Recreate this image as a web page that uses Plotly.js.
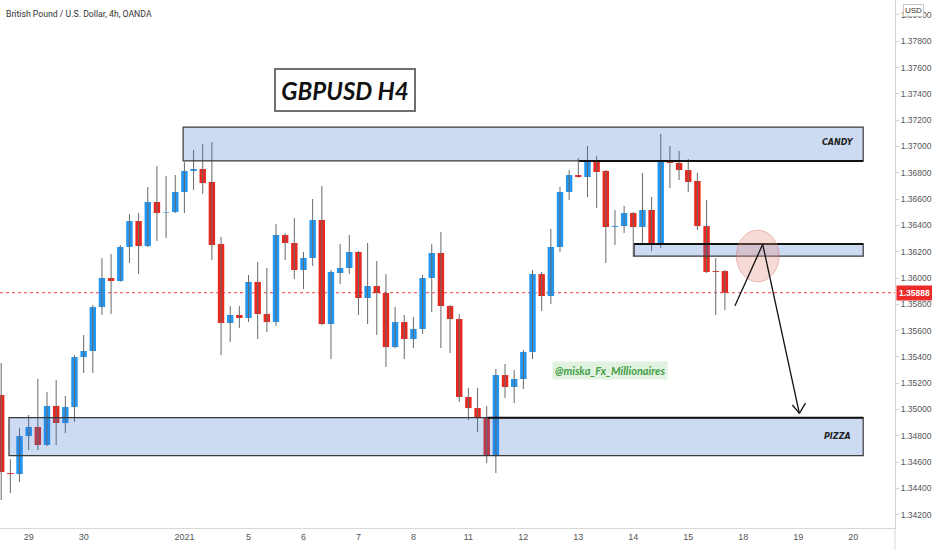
<!DOCTYPE html>
<html>
<head>
<meta charset="utf-8">
<script src="https://cdn.plot.ly/plotly-3.0.1.min.js"></script>
<style>html,body{margin:0;padding:0;background:#fff;}#chart{width:932px;height:550px;}</style>
</head>
<body>
<div id="chart"></div>
<script>
// ---- Data (GBPUSD 4h candles) ----
const openP = [1.35110,1.34517,1.34509,1.34798,1.34867,1.34730,1.35027,1.34897,1.35019,1.35399,
1.35445,1.35779,1.36000,1.35977,1.36236,1.36433,1.36243,1.36578,1.36498,1.36502,
1.36654,1.36814,1.36829,1.36730,1.36259,1.35658,1.35719,1.35696,1.35970,1.35726,
1.35665,1.36327,1.36266,1.36061,1.36152,1.36441,1.35650,1.36038,1.36076,1.36198,
1.35848,1.35939,1.35886,1.35475,1.35665,1.35536,1.35612,1.36000,1.36190,1.35787,
1.35688,1.35095,1.35011,1.34935,1.34654,1.35262,1.35171,1.35232,1.35437,1.36030,
1.35863,1.36236,1.36654,1.36783,1.36768,1.36890,1.36814,1.36388,1.36395,1.36494,
1.36388,1.36517,1.36266,1.36890,1.36875,1.36821,1.36738,1.36395,1.36053,1.36053];

const highP = [1.35354,1.34623,1.34859,1.34958,1.35232,1.35133,1.35224,1.35103,1.35414,1.35567,
1.35795,1.36152,1.36183,1.36251,1.36487,1.36494,1.36692,1.36852,1.36776,1.36783,
1.36882,1.36973,1.37019,1.37034,1.36312,1.35787,1.35787,1.36023,1.36122,1.36076,
1.36411,1.36342,1.36456,1.36198,1.36601,1.36700,1.36061,1.36259,1.36327,1.36205,
1.36266,1.36129,1.36030,1.35779,1.35719,1.35703,1.36023,1.36259,1.36350,1.35795,
1.35726,1.35163,1.35163,1.35027,1.35308,1.35346,1.35300,1.35452,1.36061,1.36046,
1.36373,1.36692,1.36821,1.36913,1.37004,1.36928,1.36821,1.36517,1.36548,1.36502,
1.36799,1.36616,1.37095,1.37004,1.36966,1.36905,1.36799,1.36593,1.36152,1.36061];

const lowP = [1.34312,1.34365,1.34449,1.34692,1.34692,1.34722,1.34730,1.34821,1.34905,1.35278,
1.35278,1.35719,1.35726,1.35970,1.36114,1.36030,1.36236,1.36281,1.36304,1.36494,
1.36494,1.36669,1.36639,1.36137,1.35414,1.35513,1.35620,1.35665,1.35536,1.35589,
1.35635,1.36137,1.35992,1.35916,1.36091,1.35643,1.35384,1.35954,1.36030,1.35719,
1.35650,1.35567,1.35323,1.35468,1.35384,1.35468,1.35574,1.35741,1.35468,1.35430,
1.35057,1.34920,1.34829,1.34593,1.34517,1.35087,1.35049,1.35156,1.35384,1.35749,
1.35802,1.36198,1.36593,1.36761,1.36616,1.36532,1.36114,1.36251,1.36342,1.36160,
1.36266,1.36205,1.36228,1.36684,1.36745,1.36654,1.36365,1.36038,1.35719,1.35757];

const closeP = [1.34525,1.34509,1.34798,1.34867,1.34730,1.35027,1.34897,1.35019,1.35399,1.35445,
1.35779,1.36000,1.35977,1.36236,1.36433,1.36243,1.36578,1.36494,1.36502,1.36654,
1.36814,1.36829,1.36722,1.36251,1.35658,1.35719,1.35696,1.35970,1.35726,1.35665,
1.36327,1.36266,1.36061,1.36152,1.36441,1.35650,1.36046,1.36076,1.36198,1.35848,
1.35939,1.35886,1.35475,1.35665,1.35536,1.35612,1.36000,1.36190,1.35787,1.35688,
1.35095,1.35011,1.34935,1.34654,1.35262,1.35171,1.35232,1.35437,1.36030,1.35863,
1.36236,1.36654,1.36783,1.36768,1.36890,1.36806,1.36388,1.36395,1.36494,1.36388,
1.36517,1.36266,1.36890,1.36875,1.36821,1.36730,1.36395,1.36046,1.36046,1.35888];

const dayTickIdx = [3,9,20,27,33,39,45,51,57,63,69,75,81,87,93];
const dayTickText = ['29','30','2021','5','6','7','8','11','12','13','14','15','18','19','20'];

const lastPrice = 1.35888;
const candyZone = [1.36890, 1.37148];
const pizzaZone = [1.34649, 1.34938];
const midZone = [1.36167, 1.36259];

// ---- Build traces ----
const UP = '#2196f3', DOWN = '#e8281e', WICK = '#6a6a6a';
const idx = openP.map((_, i) => i);
const wx = [], wy = [];
idx.forEach(i => { wx.push(i, i, null); wy.push(lowP[i], highP[i], null); });
const bodyBase = idx.map(i => Math.min(openP[i], closeP[i]));
const bodyLen = idx.map(i => Math.max(Math.abs(closeP[i] - openP[i]), 0.00002));
const bodyCol = idx.map(i => closeP[i] >= openP[i] ? UP : DOWN);

const traces = [
  {type:'scatter', mode:'lines', x:wx, y:wy, line:{color:WICK, width:1}, hoverinfo:'skip', connectgaps:false},
  {type:'bar', x:idx, base:bodyBase, y:bodyLen, width:0.7, marker:{color:bodyCol, line:{width:0}}, hoverinfo:'skip'}
];

const zoneFill = 'rgba(51,107,203,0.25)';
const zoneLine = {color:'#3a3a3a', width:1.2};
const edge = 94.1;
const shapes = [
  {type:'line', xref:'paper', x0:0, x1:1, yref:'y', y0:lastPrice, y1:lastPrice, line:{color:'#ef3b3b', width:1, dash:'dot'}, layer:'below'},
  {type:'rect', xref:'x', yref:'y', x0:19.86, x1:edge, y0:candyZone[0], y1:candyZone[1], fillcolor:zoneFill, line:zoneLine},
  {type:'rect', xref:'x', yref:'y', x0:0.85, x1:edge, y0:pizzaZone[0], y1:pizzaZone[1], fillcolor:zoneFill, line:zoneLine},
  {type:'rect', xref:'x', yref:'y', x0:69.1, x1:edge, y0:midZone[0], y1:midZone[1], fillcolor:zoneFill, line:zoneLine},
  {type:'line', xref:'x', yref:'y', x0:63.1, x1:edge, y0:candyZone[0], y1:candyZone[0], line:{color:'#111', width:2}},
  {type:'line', xref:'x', yref:'y', x0:53.1, x1:edge, y0:pizzaZone[1], y1:pizzaZone[1], line:{color:'#111', width:2}},
  {type:'line', xref:'x', yref:'y', x0:69.1, x1:edge, y0:midZone[1], y1:midZone[1], line:{color:'#111', width:2}},
  {type:'circle', xref:'x', yref:'y', x0:80.26, x1:84.91, y0:1.35971, y1:1.36364, fillcolor:'rgba(228,140,128,0.32)', line:{color:'rgba(210,110,100,0.45)', width:1}},
  {type:'line', xref:'x', yref:'y', x0:80.1, y0:1.35789, x1:83.13, y1:1.36256, line:{color:'#111', width:1.3}},
  {type:'line', xref:'x', yref:'y', x0:83.13, y0:1.36256, x1:87.13, y1:1.34971, line:{color:'#111', width:1.3}},
  {type:'line', xref:'x', yref:'y', x0:86.37, y0:1.35034, x1:87.13, y1:1.34971, line:{color:'#111', width:1.3}},
  {type:'line', xref:'x', yref:'y', x0:87.8, y0:1.35049, x1:87.13, y1:1.34971, line:{color:'#111', width:1.3}},
  {type:'line', xref:'paper', yref:'paper', x0:1, x1:1, y0:-0.05, y1:0, line:{color:'#d8d8d8', width:1}}
];

const annotations = [
  {xref:'paper', yref:'paper', x:0, y:1, xanchor:'left', yanchor:'top', xshift:4, yshift:-7, showarrow:false,
   text:'British Pound / U.S. Dollar, 4h, OANDA', font:{family:'Roboto', size:8.7, color:'#333'}},
  {xref:'paper', yref:'paper', x:0.3855, y:0.8295, xanchor:'center', yanchor:'middle', showarrow:false, text:'GBPUSD H4',
   font:{family:'Lato', size:24, color:'#111', weight:700, style:'italic'},
   bgcolor:'#fff', bordercolor:'#707070', borderwidth:2, borderpad:0, width:138, height:40},
  {xref:'x', yref:'y', x:93.3, y:1.37027, xanchor:'right', yanchor:'middle', showarrow:false, text:'CANDY',
   font:{family:'DejaVu Sans', size:8, color:'#222', weight:700, style:'italic'}},
  {xref:'x', yref:'y', x:93.0, y:1.34798, xanchor:'right', yanchor:'middle', showarrow:false, text:'PIZZA',
   font:{family:'DejaVu Sans', size:8, color:'#222', weight:700, style:'italic'}},
  {xref:'paper', yref:'paper', x:0.6816, y:0.2992, xanchor:'center', yanchor:'middle', showarrow:false, text:'@miska_Fx_Millionaires',
   font:{family:'Lato', size:11, color:'#43a047', weight:700, style:'italic'}, bgcolor:'rgba(200,232,200,0.55)', borderpad:2},
  {xref:'paper', yref:'y', x:1, y:lastPrice, xanchor:'left', yanchor:'middle', xshift:1, showarrow:false, text:'1.35888',
   font:{family:'Liberation Sans', size:8.5, color:'#fff', weight:700}, bgcolor:'#ee2b2b', borderpad:2},
  {xref:'paper', yref:'paper', x:1, y:1, xanchor:'left', yanchor:'top', xshift:8, yshift:-4, showarrow:false, text:'USD',
   font:{family:'Liberation Sans', size:8, color:'#333'}, bgcolor:'#fff', bordercolor:'#c8c8c8', borderwidth:1, borderpad:1}
];

const layout = {
  width:932, height:550,
  margin:{l:0, r:37, t:0, b:22},
  paper_bgcolor:'#fff', plot_bgcolor:'#fff',
  showlegend:false,
  xaxis:{range:[-0.13, 97.57], tickmode:'array', tickvals:dayTickIdx, ticktext:dayTickText,
         showgrid:false, zeroline:false, showline:true, linecolor:'#d8d8d8', linewidth:1, ticks:'',
         tickfont:{family:'Liberation Sans', size:9, color:'#555'}},
  yaxis:{side:'right', range:[1.34099, 1.38114], tick0:1.342, dtick:0.002, tickformat:'.5f',
         showgrid:false, zeroline:false, showline:true, linecolor:'#d8d8d8', linewidth:1,
         ticks:'outside', ticklen:3, tickcolor:'#d0d0d0',
         tickfont:{family:'Liberation Sans', size:8.5, color:'#555'}},
  shapes:shapes,
  annotations:annotations
};

Plotly.newPlot('chart', traces, layout, {staticPlot:true, displayModeBar:false});
</script>
</body>
</html>
